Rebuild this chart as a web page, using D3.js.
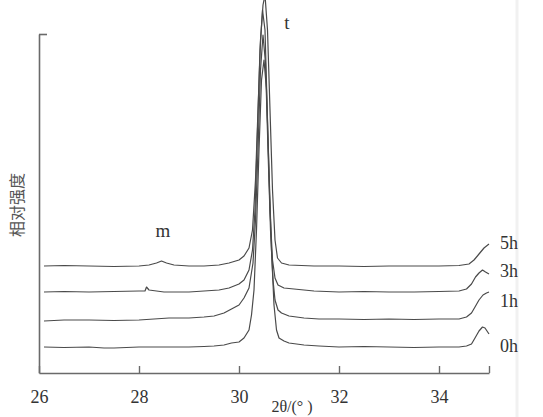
<!DOCTYPE html>
<html>
<head>
<meta charset="utf-8">
<script src="https://cdn.jsdelivr.net/npm/d3@7"></script>
<style>
  html, body { margin: 0; padding: 0; background: #fff; }
  svg { display: block; }
</style>
</head>
<body>
<svg id="chart" width="543" height="417"></svg>
<script>
// ---- data (2θ in degrees, relative intensity in a.u., curves stacked) ----
const seriesNames = ["0h", "1h", "3h", "5h"];

const theta0h = [26.1,26.5,27,27.3,27.5,28,28.5,29,29.3,29.5,29.7,29.85,30.0,30.1,30.2,30.25,30.3,30.35,30.4,30.45,30.5,30.55,30.6,30.65,30.7,30.75,30.8,30.9,31.0,31.3,31.6,32,32.5,33,33.5,34,34.4,34.55,34.65,34.72,34.8,34.87,34.92,35];
const int0h   = [26,25.5,26,25,25,26,26,26,26.5,27,28,30,31,35,43,58,83,143,223,293,313,283,203,123,68,43,35,32,30,28,27,26,26.5,26,25.5,26,26,27,29,35,42,46,45,39];

const theta1h = [26.1,26.5,27,27.5,28,28.3,28.6,29,29.3,29.5,29.7,29.85,30.0,30.1,30.2,30.28,30.33,30.38,30.43,30.48,30.53,30.58,30.63,30.68,30.72,30.78,30.85,31.0,31.3,31.6,32,32.5,33,33.5,34,34.4,34.55,34.65,34.72,34.8,34.88,34.95,35];
const int1h   = [52,53,53,52.5,53,54,55,55,56,57,60,64,68,75,85,110,153,223,303,338,310,223,143,93,73,63,60,57,55,54,54,53.5,54,53.5,54,54,56,60,66,73,78,80,81];

const theta3h = [26.1,26.5,27,27.5,28,28.12,28.15,28.2,28.5,29,29.3,29.6,29.8,30.0,30.1,30.2,30.27,30.32,30.37,30.42,30.47,30.52,30.57,30.62,30.67,30.72,30.78,30.9,31.1,31.5,32,32.5,33,33.5,34,34.4,34.55,34.65,34.73,34.8,34.87,34.93,35];
const int3h   = [81,81.5,81,81.5,82,82,86,83,81,81,82,83,85,89,93,103,123,163,243,323,363,343,253,163,113,95,88,85,84,82,81,81.5,81,81,81.5,82,84,89,96,100,103,101,99];

const theta5h = [26.1,26.5,27,27.5,28,28.2,28.35,28.45,28.55,28.7,29,29.3,29.6,29.8,30.0,30.1,30.2,30.27,30.33,30.38,30.43,30.48,30.52,30.57,30.62,30.67,30.72,30.77,30.85,31.0,31.5,32,32.5,33,33.5,34,34.4,34.6,34.7,34.8,34.9,35];
const int5h   = [107,107.5,107,106.5,107,108,110,112,110,108,107,107,108,110,113,117,125,143,193,263,333,368,378,343,263,183,133,115,110,108,107,107,106.5,107,107,107,107.5,109,113,119,125,129];

const xTickValues = [26, 28, 30, 32, 34, 35];
const xTickLabels = ["26", "28", "30", "32", "34", ""];
const peakLabels = [{ text: "m", theta: 28.48, value: 136 }, { text: "t", theta: 30.96, value: 344 }];
const seriesLabelValues = [21, 66, 96, 124];

// ---- drawing ----
const svg = d3.select("#chart");
const x = d3.scaleLinear().domain([26, 35]).range([39, 489]);
const y = d3.scaleLinear().domain([0, 339]).range([373, 34]);

// faint scan border on the right
svg.append("line").attr("x1", 517).attr("x2", 517).attr("y1", 0).attr("y2", 417)
  .attr("stroke", "#f1f1f1").attr("stroke-width", 3);

const series = [
  { name: seriesNames[0], t: theta0h, v: int0h },
  { name: seriesNames[1], t: theta1h, v: int1h },
  { name: seriesNames[2], t: theta3h, v: int3h },
  { name: seriesNames[3], t: theta5h, v: int5h }
];

const line = d3.line().x(d => x(d[0])).y(d => y(d[1])).curve(d3.curveLinear);

series.forEach(s => {
  const pts = s.t.map((t, i) => [t, s.v[i]]);
  svg.append("path").datum(pts)
    .attr("d", line)
    .attr("fill", "none")
    .attr("stroke", "#4a4a4a")
    .attr("stroke-width", 1.2)
    .attr("stroke-linejoin", "round");
});

// axes
const xAxis = d3.axisBottom(x)
  .tickValues(xTickValues)
  .tickFormat((d, i) => xTickLabels[i])
  .tickSizeInner(-7).tickSizeOuter(0).tickPadding(17);
const gx = svg.append("g").attr("transform", "translate(0,373)").call(xAxis);
gx.select(".domain").attr("stroke", "#6a6a6a").attr("stroke-width", 1.6);
gx.selectAll(".tick line").attr("stroke", "#6a6a6a").attr("stroke-width", 1.4);
gx.selectAll(".tick text")
  .attr("font-family", "'Liberation Serif', 'DejaVu Serif', serif")
  .attr("font-size", 18).attr("fill", "#333");

const yAxis = d3.axisLeft(y).tickValues([339]).tickFormat("")
  .tickSizeInner(-8).tickSizeOuter(0);
const gy = svg.append("g").attr("transform", "translate(39,0)").call(yAxis);
gy.select(".domain").attr("stroke", "#6a6a6a").attr("stroke-width", 1.6);
gy.selectAll(".tick line").attr("stroke", "#6a6a6a").attr("stroke-width", 1.6);

// axis titles
svg.append("text")
  .attr("transform", "translate(23,205) rotate(-90)")
  .attr("text-anchor", "middle")
  .attr("font-family", "'Noto Sans CJK SC', sans-serif")
  .attr("font-size", 16).attr("fill", "#555")
  .text("相对强度");

svg.append("text")
  .attr("x", 292).attr("y", 412)
  .attr("text-anchor", "middle")
  .attr("font-family", "'Liberation Serif', serif")
  .attr("font-size", 16).attr("fill", "#333")
  .text("2θ/(°  )");

// peak labels
peakLabels.forEach(p => {
  svg.append("text")
    .attr("x", x(p.theta)).attr("y", y(p.value))
    .attr("text-anchor", "middle")
    .attr("font-family", "'Liberation Serif', serif")
    .attr("font-size", 19).attr("fill", "#333")
    .text(p.text);
});

// series labels
series.forEach((s, i) => {
  svg.append("text")
    .attr("x", 500).attr("y", y(seriesLabelValues[i]))
    .attr("font-family", "'Liberation Serif', serif")
    .attr("font-size", 18).attr("fill", "#333")
    .text(s.name);
});
</script>
</body>
</html>
